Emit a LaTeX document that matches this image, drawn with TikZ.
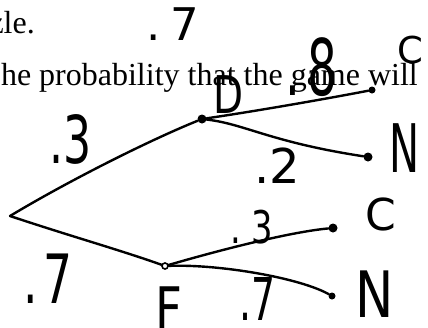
\documentclass[tikz,border=0pt]{standalone}
\usepackage{fontspec}
\usepackage{graphicx}
\setmainfont{Liberation Serif}
\newfontfamily\hwfont{DejaVu Sans}
\newcommand{\hwl}[3]{\scalebox{#1}[1]{\hwfont\fontsize{#2}{#2}\selectfont #3}}
\begin{document}
\begin{tikzpicture}[x=1pt,y=-1pt,
  printed/.style={inner sep=0pt, font=\fontsize{32}{32}\selectfont},
  hw/.style={inner sep=0pt, anchor=base west},
  ink/.style={line width=2.4pt, line cap=round, line join=round},
  blob/.style={circle, fill=black, inner sep=0pt, minimum size=9pt},
  smallblob/.style={circle, fill=black, inner sep=0pt, minimum size=7pt},
  ringnode/.style={circle, draw=black, line width=1.6pt, inner sep=0pt, minimum size=6pt}]
\useasboundingbox (0,0) rectangle (428,327);
\fill[white] (0,0) rectangle (428,327);

% printed text
\node[printed, anchor=base east] (t1) at (35,33) {zle.};
\node[printed, anchor=base east] (t2) at (418,85) {he probability that the game will};

% tree vertices
\coordinate (R) at (10,216);
\node[blob] (D) at (202,119) {};
\node[ringnode] (F) at (165,266) {};
\node[smallblob] (C1) at (372,90) {};
\node[blob] (N1) at (368,157) {};
\node[blob] (C2) at (333,228) {};
\node[smallblob] (N2) at (332,296) {};

% branches
\draw[ink] (R) .. controls (70,180) and (150,140) .. (D);
\draw[ink] (R) .. controls (70,236) and (120,250) .. (F);
\draw[ink] (D) .. controls (250,112) and (320,100) .. (C1);
\draw[ink] (D) .. controls (245,124) and (270,142) .. (N1);
\draw[ink] (F) .. controls (220,250) and (290,232) .. (C2);
\draw[ink] (F) .. controls (220,264) and (300,278) .. (N2);

% handwritten labels
\node[hw] (p7top) at (146,40) {\hwl{1}{45}{.\kern10pt 7}};
\node[hw] (p3up) at (49,163) {\hwl{0.67}{66}{.3}};
\node[hw] (lD) at (213,113) {\hwl{0.75}{52}{D}};
\node[hw] (p8) at (285,95) {\hwl{0.6}{78}{.\kern12pt 8}};
\node[hw] (lC1) at (397,63) {\hwl{1}{37}{C}};
\node[hw] (p2) at (254,183) {\hwl{1}{48}{.2}};
\node[hw] (lN1) at (389,172) {\hwl{0.6}{67}{N}};
\node[hw] (p3low) at (230,243) {\hwl{0.75}{45}{.\kern14pt 3}};
\node[hw] (lC2) at (365,230) {\hwl{1}{44}{C}};
\node[hw] (p7left) at (23,303) {\hwl{0.67}{68}{.\kern8pt 7}};
\node[hw] (lF) at (155,330) {\hwl{0.78}{60}{F}};
\node[hw] (p7low) at (239,320) {\hwl{0.64}{59}{.7}};
\node[hw] (lN2) at (355,317) {\hwl{0.8}{64}{N}};
\end{tikzpicture}
\end{document}
